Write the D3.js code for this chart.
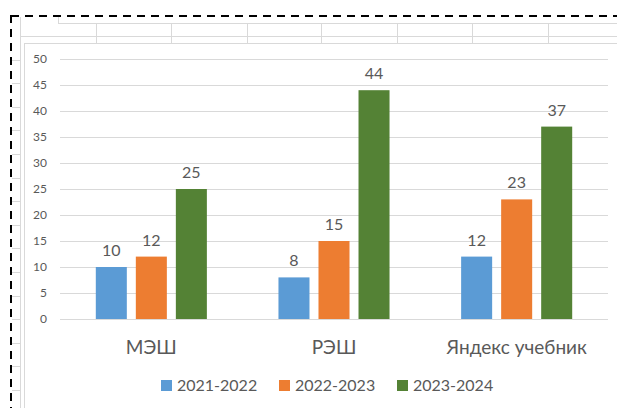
<!DOCTYPE html>
<html>
<head>
<meta charset="utf-8">
<script src="https://cdn.jsdelivr.net/npm/d3@7"></script>
<style>
  html, body { margin: 0; padding: 0; background: #fff; }
  svg { display: block; }
</style>
</head>
<body>
<div id="chart"></div>
<script>
// Data
const categories = ['МЭШ', 'РЭШ', 'Яндекс учебник'];
const seriesNames = ['2021-2022', '2022-2023', '2023-2024'];
const seriesColors = ['#5B9BD5', '#ED7D31', '#548235'];
const values2021 = [10, 8, 12];
const values2022 = [12, 15, 23];
const values2023 = [25, 44, 37];
const yTicks = [0, 5, 10, 15, 20, 25, 30, 35, 40, 45, 50];

const seriesValues = [values2021, values2022, values2023];

const W = 617, H = 408;
const FONT = 'Lato, "Open Sans", sans-serif';
const TEXT = '#595959';
const GRID = '#d9d9d9';

const svg = d3.select('#chart').append('svg')
  .attr('width', W)
  .attr('height', H);

// Spreadsheet background (cells behind the chart object)
const sheet = svg.append('g').attr('stroke', GRID).attr('stroke-width', 1).attr('fill', 'none');
sheet.append('line').attr('x1', 20.5).attr('x2', 20.5).attr('y1', 17).attr('y2', H);
sheet.append('line').attr('x1', 58.5).attr('x2', 58.5).attr('y1', 17).attr('y2', 23);
sheet.append('line').attr('x1', 58).attr('x2', W).attr('y1', 23.5).attr('y2', 23.5);
sheet.append('line').attr('x1', 20).attr('x2', W).attr('y1', 36.5).attr('y2', 36.5);
[96, 171, 247, 321, 397, 472, 548].forEach(x => {
  sheet.append('line').attr('x1', x + 0.5).attr('x2', x + 0.5).attr('y1', 23).attr('y2', 43);
});
d3.range(1, 16).forEach(k => {
  const y = Math.round(36 + 23.6 * k) + 0.5;
  sheet.append('line').attr('x1', 12).attr('x2', 20).attr('y1', y).attr('y2', y);
});

// Chart object frame
svg.append('rect')
  .attr('x', 24.5).attr('y', 43.5)
  .attr('width', W).attr('height', H)
  .attr('fill', '#fff')
  .attr('stroke', GRID);

// Selection dashed border
const dash = svg.append('g').attr('stroke', '#000').attr('stroke-width', 2)
  .attr('stroke-dasharray', '8,6').attr('fill', 'none');
dash.append('line').attr('x1', 11).attr('x2', W).attr('y1', 16).attr('y2', 16);
dash.append('line').attr('x1', 11).attr('x2', 11).attr('y1', 15).attr('y2', H);

// Scales
const plot = { left: 60, right: 608, top: 59, bottom: 319 };

const x0 = d3.scaleBand()
  .domain(categories)
  .range([plot.left, plot.right])
  .paddingInner(0.392)
  .paddingOuter(0.196);

const x1 = d3.scaleBand()
  .domain(seriesNames)
  .range([0, x0.bandwidth()])
  .paddingInner(0.225);

const y = d3.scaleLinear()
  .domain([0, 50])
  .range([plot.bottom, plot.top]);

// Gridlines
svg.append('g')
  .selectAll('line')
  .data(yTicks)
  .join('line')
  .attr('x1', plot.left).attr('x2', plot.right)
  .attr('y1', d => Math.round(y(d)) + 0.5)
  .attr('y2', d => Math.round(y(d)) + 0.5)
  .attr('stroke', GRID)
  .attr('stroke-width', 1);

// Y tick labels
svg.append('g')
  .selectAll('text')
  .data(yTicks)
  .join('text')
  .attr('x', 47)
  .attr('y', d => y(d) + 4)
  .attr('text-anchor', 'end')
  .style('font-family', FONT)
  .style('font-size', '12px')
  .style('fill', TEXT)
  .text(d => d);

// Bars
const groups = svg.append('g')
  .selectAll('g')
  .data(categories)
  .join('g')
  .attr('transform', d => `translate(${x0(d)},0)`);

groups.selectAll('rect')
  .data((c, ci) => seriesNames.map((s, si) => ({ s, si, v: seriesValues[si][ci] })))
  .join('rect')
  .attr('x', d => x1(d.s))
  .attr('y', d => y(d.v))
  .attr('width', x1.bandwidth())
  .attr('height', d => y(0) - y(d.v))
  .attr('fill', d => seriesColors[d.si]);

groups.selectAll('text')
  .data((c, ci) => seriesNames.map((s, si) => ({ s, si, v: seriesValues[si][ci] })))
  .join('text')
  .attr('x', d => x1(d.s) + x1.bandwidth() / 2)
  .attr('y', d => y(d.v) - 11)
  .attr('text-anchor', 'middle')
  .style('font-family', FONT)
  .style('font-size', '16px')
  .style('fill', TEXT)
  .text(d => d.v);

// Category labels
svg.append('g')
  .selectAll('text')
  .data(categories)
  .join('text')
  .attr('x', d => x0(d) + x0.bandwidth() / 2)
  .attr('y', 354)
  .attr('text-anchor', 'middle')
  .style('font-family', FONT)
  .style('font-size', '19px')
  .style('fill', TEXT)
  .text(d => d);

// Legend
const legendX = [161, 279, 397];
const legend = svg.append('g')
  .selectAll('g')
  .data(seriesNames)
  .join('g')
  .attr('transform', (d, i) => `translate(${legendX[i]},0)`);

legend.append('rect')
  .attr('x', 0).attr('y', 380)
  .attr('width', 11).attr('height', 11)
  .attr('fill', (d, i) => seriesColors[i]);

legend.append('text')
  .attr('x', 16)
  .attr('y', 391)
  .style('font-family', FONT)
  .style('font-size', '16px')
  .style('fill', TEXT)
  .text(d => d);
</script>
</body>
</html>
